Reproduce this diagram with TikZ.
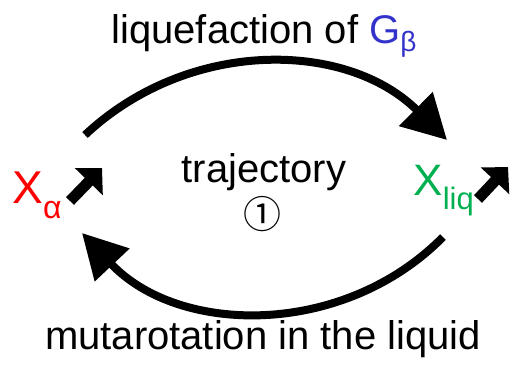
\documentclass[tikz,border=0pt]{standalone}
\usepackage{fontspec}
\setmainfont{Liberation Sans}
\newfontfamily\symfont{Noto Sans CJK SC}
\usepackage{tikz}
\usetikzlibrary{arrows.meta}
\definecolor{alphared}{RGB}{255,0,0}
\definecolor{liqgreen}{RGB}{0,176,80}
\definecolor{betablue}{RGB}{51,51,204}
\newcommand{\lowsub}[3][6pt]{\raisebox{-#1}{\fontsize{#2}{#2}\selectfont #3}}
\tikzset{
  bigtext/.style={font=\fontsize{20}{24}\selectfont, inner sep=0pt},
  bendarr/.style={line width=4pt, -{Triangle[length=22pt, width=23pt]}},
  uparr/.style={line width=5.5pt, -{Triangle[length=9.5pt, width=19pt]}},
}

\begin{document}
\begin{tikzpicture}[x=0.5pt, y=-0.5pt]
  \useasboundingbox (0,0) rectangle (514,365);

  % species
  \node[bigtext, font=\fontsize{23}{26}\selectfont, anchor=base west,
    text=alphared] (xa) at (12,203) {X\lowsub[7.5pt]{16}{α}};
  \node[bigtext, font=\fontsize{22}{26}\selectfont, anchor=base west,
    text=liqgreen] (xliq) at (413,195) {X\lowsub[7pt]{15.5}{liq}};

  % labels
  \node[bigtext, anchor=base] (liquef) at (264,43)
    {liquefaction of \textcolor{betablue}{G\lowsub[4pt]{14}{β}}};
  \node[bigtext, anchor=base] (mutarot) at (263,349)
    {mutarotation in the liquid};
  \node[bigtext, anchor=base] (traj) at (264,182) {trajectory};
  \node[inner sep=0pt, font=\symfont\fontsize{19}{19}\selectfont]
    (one) at (262.5,214) {①};

  % arc ends
  \coordinate (ta) at (85,135);
  \coordinate (tb) at (447,140);
  \coordinate (ba) at (443,237);
  \coordinate (bb) at (82,233);
  \draw[bendarr] (ta) to[bend left=44] (tb);
  \draw[bendarr] (ba) to[bend left=46] (bb);

  % small rising arrows
  \coordinate (xa0) at (70,201);
  \coordinate (xa1) at (102,168);
  \coordinate (xl0) at (478,199);
  \coordinate (xl1) at (508,167);
  \draw[uparr] (xa0) -- (xa1);
  \draw[uparr] (xl0) -- (xl1);
\end{tikzpicture}
\end{document}
